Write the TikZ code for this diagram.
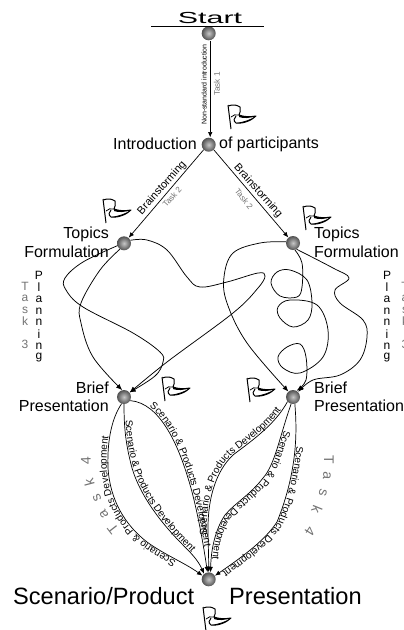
\documentclass[tikz,border=0pt]{standalone}
\usepackage{fontspec}
\usepackage{graphicx}
\setmainfont{Liberation Sans}
\usetikzlibrary{arrows.meta,decorations.text}
\definecolor{taskgray}{gray}{0.45}
\tikzset{
  x=1pt,y=-1pt,
  ball/.style={circle,minimum size=14pt,inner sep=0pt,shading=radial,inner color=black!22,outer color=black!68},
  lab/.style={inner sep=0pt,font=\fontsize{16}{16}\selectfont},
  biglab/.style={inner sep=0pt,font=\fontsize{23.6}{24}\selectfont},
  letter/.style={inner sep=0pt,font=\fontsize{12}{12}\selectfont},
  taskletter/.style={letter,text=taskgray},
  bigtask/.style={inner sep=0pt,text=taskgray,font=\fontsize{14}{14}\selectfont},
  conn/.style={line width=0.7pt,-{Latex[length=5.5pt,width=4.5pt]}},
  wiggle/.style={line width=0.75pt,-{Latex[length=6pt,width=5pt]}},
  scen/.style={decorate,decoration={text along path,raise=1.2pt,text align={left indent=#1},
     text={|\fontsize{10}{10}\selectfont|Scenario {\&} Products Development}}},
  flagpic/.pic={
    \draw[line width=1pt,line join=round,fill=white]
      (0.3,1) .. controls (5,-1) and (9,0) .. (12,2)
      .. controls (13,5) and (12,8) .. (11,10)
      .. controls (16,12) and (22,12) .. (28,11)
      .. controls (24,15) and (16,19) .. (8,18)
      .. controls (5,16) and (6,13) .. (8,11);
    \fill (11,10) .. controls (16,12) and (22,12) .. (28,11) .. controls (22,13) and (16,14) .. (11,12) -- cycle;
    \fill (28,11) .. controls (24,15) and (16,19) .. (8,18) .. controls (15,17) and (22,15) .. (28,11) -- cycle;
    \draw[line width=0.8pt] (3,12) .. controls (5,9.5) and (8,9.5) .. (11,10);
    \draw[line width=1pt] (0,0) -- (3,24);
  }
}
\begin{document}
\begin{tikzpicture}
\useasboundingbox (0,0) rectangle (404,630);
\clip (0,0) rectangle (404,630);
% balls
\node[ball] (s) at (208.7,33.3) {};
\node[ball] (i) at (208.7,144.7) {};
\node[ball] (tl) at (124,243.3) {};
\node[ball] (tr) at (293,243) {};
\node[ball] (bl) at (124,397) {};
\node[ball] (br) at (293,397) {};
\node[ball] (f) at (208.7,579.3) {};
% start
\coordinate (barl) at (151,26);
\coordinate (barr) at (264,26);
\draw[line width=0.8pt] (barl) -- (barr);
\node[inner sep=0pt] (start) at (210,17.5) {\fontsize{16}{16}\selectfont\scalebox{1.9}[1]{Start}};
% labels
\node[lab,anchor=east] (lintro) at (197,144) {Introduction};
\node[lab,anchor=west] (lpart) at (219,144) {of participants};
\node[lab,anchor=east] (ltl1) at (109,234) {Topics};
\node[lab,anchor=east] (ltl2) at (109,252) {Formulation};
\node[lab,anchor=west] (ltr1) at (314,234) {Topics};
\node[lab,anchor=west] (ltr2) at (314,252) {Formulation};
\node[lab,anchor=east] (lbl1) at (109,388) {Brief};
\node[lab,anchor=east] (lbl2) at (109,406) {Presentation};
\node[lab,anchor=west] (lbr1) at (314,388) {Brief};
\node[lab,anchor=west] (lbr2) at (314,406) {Presentation};
\node[biglab,anchor=west] (lf1) at (13,596) {Scenario/Product};
\node[biglab,anchor=west] (lf2) at (229,596) {Presentation};
% straight connectors
\draw[conn] ([xshift=1.5pt]s.south) -- ([xshift=1.5pt]i.north);
\draw[conn] (i.225) -- (tl.50);
\draw[conn] (i.-45) -- (tr.130);
\node[inner sep=0pt,rotate=90,font=\fontsize{7}{7}\selectfont] (ns) at (204,84.5) {Non-standard introduction};
\node[inner sep=0pt,rotate=90,text=taskgray,font=\fontsize{8.2}{8}\selectfont] (t1) at (217,84) {Task 1};
\node[inner sep=0pt,rotate=48.5,font=\fontsize{10.9}{11}\selectfont] (b1) at (162,188) {Brainstorming};
\node[inner sep=0pt,rotate=-48.5,font=\fontsize{10.9}{11}\selectfont] (b2) at (258,191) {Brainstorming};
\node[inner sep=0pt,rotate=48.5,text=taskgray,font=\fontsize{8.2}{8}\selectfont] (t2l) at (172,197) {Task 2};
\node[inner sep=0pt,rotate=-52,text=taskgray,font=\fontsize{8.2}{8}\selectfont] (t2r) at (244,199) {Task 2};
% planning letters
\foreach \c/\y [count=\n] in {P/275,l/287,a/299,n/311,n/322,i/334,n/346,g/358}{
  \node[letter] (pl\n) at (39,\y) {\c};
  \node[letter] (pr\n) at (387,\y) {\c};
}
\foreach \c/\y [count=\n] in {T/286,a/298,s/310,k/321,3/344}{
  \node[taskletter] (tkl\n) at (25,\y) {\c};
  \node[taskletter] (tkr\n) at (405,\y) {\c};
}
% task 4
\node[bigtask,rotate=128] (a1) at (113,529) {T};
\node[bigtask,rotate=122] (a2) at (104,514) {a};
\node[bigtask,rotate=115] (a3) at (97,498) {s};
\node[bigtask,rotate=105] (a4) at (89,482) {k};
\node[bigtask,rotate=92] (a5) at (86,461) {4};
\node[bigtask,rotate=-90] (c1) at (329,460) {T};
\node[bigtask,rotate=-95] (c2) at (327,476) {a};
\node[bigtask,rotate=-103] (c3) at (323,493) {s};
\node[bigtask,rotate=-112] (c4) at (317,510) {k};
\node[bigtask,rotate=-122] (c5) at (310,531) {4};
% upper curves left
\draw[wiggle] plot[smooth,tension=0.6] coordinates {(tl.200) (83,262) (65,278) (66,290) (83,307) (133,333) (160,352) (163,362) (155,376) (bl.40)};
\draw[wiggle] plot[smooth,tension=0.6] coordinates {(tl.235) (100,270) (81,303) (81,323) (93,357) (bl.105)};
\draw[wiggle] plot[smooth,tension=0.6] coordinates {(tl.25) (147,240) (167,250) (187,277) (200,287) (227,282) (258,273) (265,276) (258,288) (233,313) (167,362) (bl.38)};
% upper curves right
\draw[wiggle] plot[smooth,tension=0.6] coordinates {(tr.170) (260,243) (233,253) (224,277) (227,303) (247,343) (br.130)};
\draw[wiggle] plot[smooth,tension=0.6] coordinates {(tr.-60) (333,268) (349,278) (335,290) (340,303) (363,320) (367,337) (360,360) (340,375) (313,380) (br.45)};
\draw[wiggle] plot[smooth,tension=0.6] coordinates {(tr.-75) (302,263) (302,287) (297,297) (280,296) (271,283) (277,272) (290,270) (307,280) (312,303) (308,320) (293,327) (280,318) (278,307) (290,300) (317,305) (328,330) (323,357) (300,373) (283,368) (278,357) (287,347) (300,344) (306,357) (306,380) (br.60)};
% lower curves
\draw[conn] (bl.-110) .. controls (112,418) and (107,440) .. (108,468) .. controls (110,500) and (125,525) .. (147,542) .. controls (165,555) and (185,563) .. (f.150);
\draw[conn] (bl.-90) .. controls (124,430) and (126,445) .. (132,468) .. controls (140,495) and (160,522) .. (183,545) .. controls (190,552) and (198,560) .. (f.130);
\draw[conn] (bl.-30) .. controls (160,403) and (178,445) .. (188,478) .. controls (195,500) and (202,535) .. (f.100);
\draw[conn] (br.-140) .. controls (275,425) and (250,442) .. (233,455) .. controls (215,472) and (208,500) .. (208,528) .. controls (208,540) and (208.7,555) .. (f.90);
\draw[conn] (br.-105) .. controls (280,435) and (275,465) .. (263,478) .. controls (250,495) and (235,503) .. (225,515) .. controls (215,530) and (211,550) .. (f.75);
\draw[conn] (br.-75) .. controls (297,430) and (298,470) .. (277,522) .. controls (265,540) and (245,555) .. (f.30);
% texts along lower curves
\path[scen=30pt] (f.150) .. controls (185,563) and (165,555) .. (147,542) .. controls (125,525) and (110,500) .. (108,468) .. controls (107,440) and (112,418) .. (bl.-110);
\path[scen=16pt] (bl.-90) .. controls (124,430) and (126,445) .. (132,468) .. controls (140,495) and (160,522) .. (183,545) .. controls (190,552) and (198,560) .. (f.130);
\path[scen=20pt] (bl.-30) .. controls (160,403) and (178,445) .. (188,478) .. controls (195,500) and (202,535) .. (f.100);
\path[scen=37pt] (f.90) .. controls (208.7,555) and (208,540) .. (208,528) .. controls (208,500) and (215,472) .. (233,455) .. controls (250,442) and (275,425) .. (br.-140);
\path[scen=27pt] (br.-105) .. controls (280,435) and (275,465) .. (263,478) .. controls (250,495) and (235,503) .. (225,515) .. controls (215,530) and (211,550) .. (f.75);
\path[scen=42pt] (br.-75) .. controls (297,430) and (298,470) .. (277,522) .. controls (265,540) and (245,555) .. (f.30);
% flags
\pic at (228,105) {flagpic};
\pic at (103,199) {flagpic};
\pic at (303,206) {flagpic};
\pic at (162,377) {flagpic};
\pic at (247,378) {flagpic};
\pic at (203,607) {flagpic};
\end{tikzpicture}
\end{document}
